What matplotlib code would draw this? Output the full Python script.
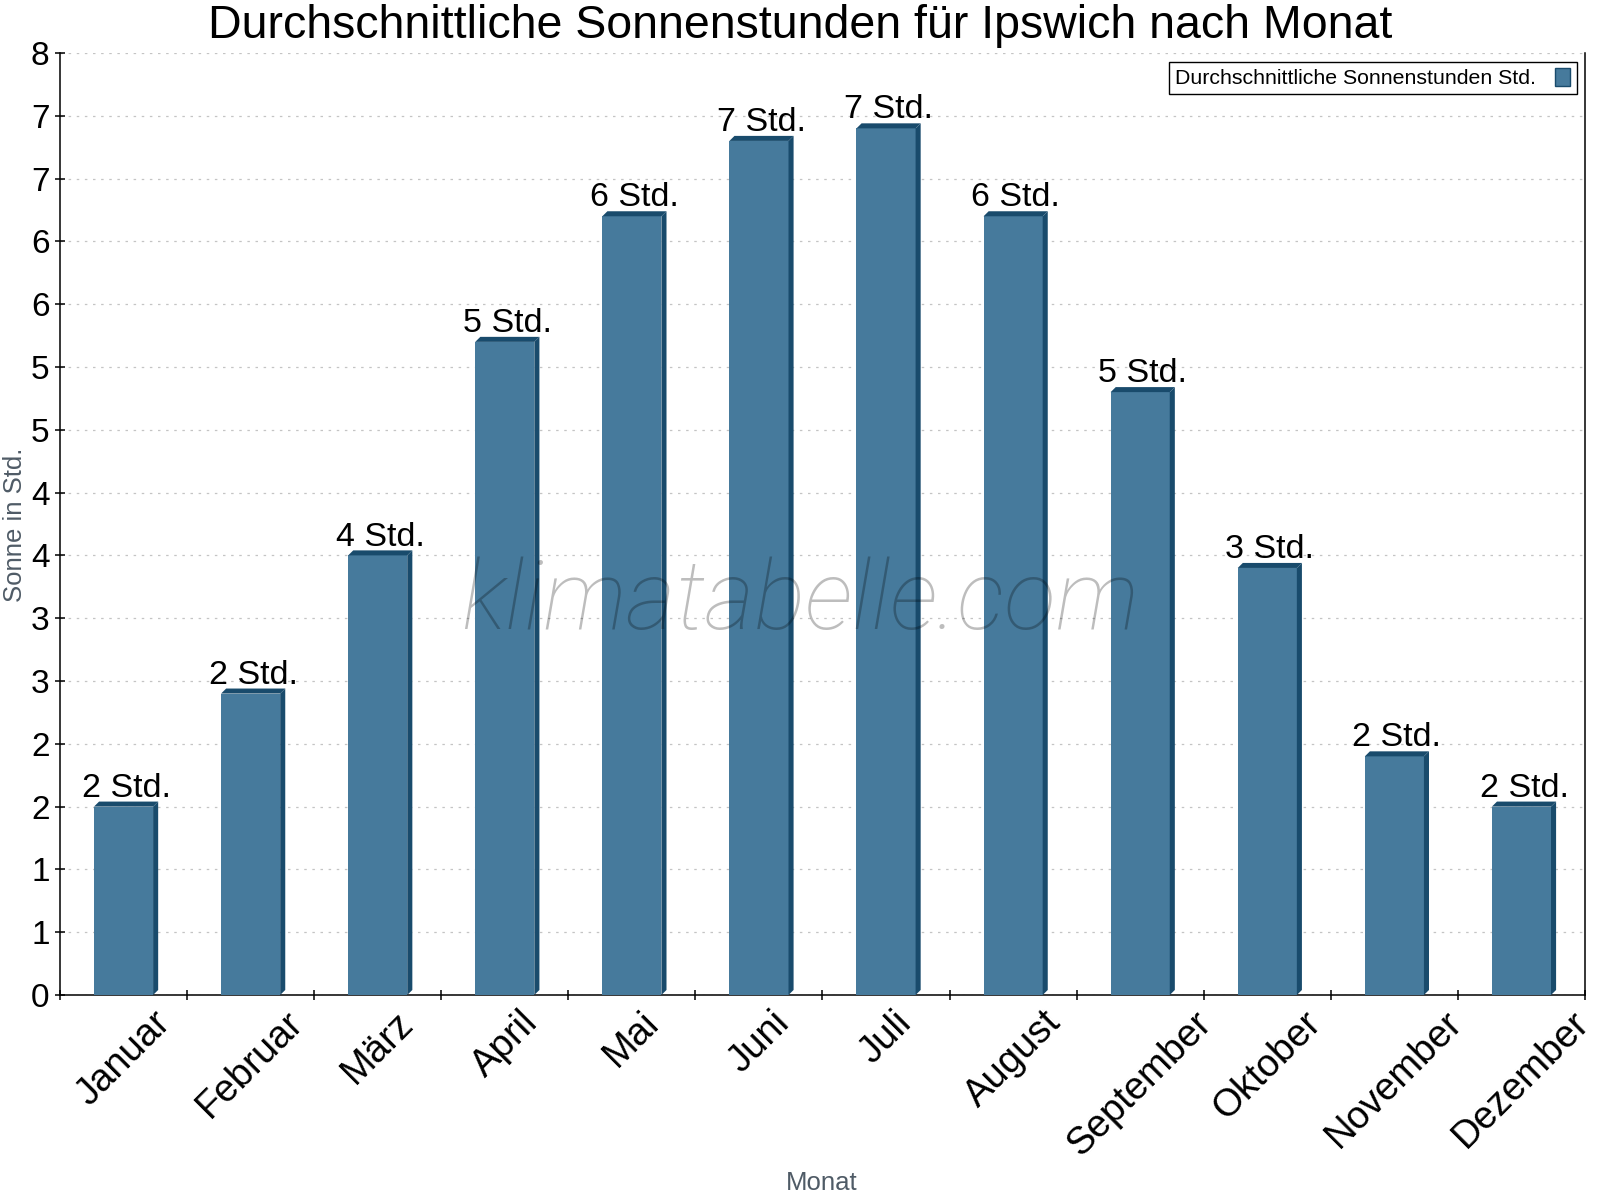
import numpy as np
import matplotlib.pyplot as plt
from matplotlib.patches import Polygon, Patch

months = ['Januar', 'Februar', 'März', 'April', 'Mai', 'Juni', 'Juli',
          'August', 'September', 'Oktober', 'November', 'Dezember']
sun_hours = [1.5, 2.4, 3.5, 5.2, 6.2, 6.8, 6.9, 6.2, 4.8, 3.4, 1.9, 1.5]
y_ticks = np.arange(0, 8, 0.5)

front_color = '#467a9c'
dark_color = '#194b6c'
font = 'Liberation Sans'
plt.rcParams['font.family'] = [font, 'DejaVu Sans']


def round_half_up(v):
    return int(np.floor(v + 0.5))


fig = plt.figure(figsize=(16, 12), dpi=100)
ax = fig.add_axes([60 / 1600, 205 / 1200, 1525 / 1600, 942 / 1200])

x = np.arange(len(months))
width = 0.465
dx, dy = 0.04, 0.04

ax.bar(x, sun_hours, width=width, color=front_color, zorder=3)
for xi, v in zip(x, sun_hours):
    x0, x1 = xi - width / 2, xi + width / 2
    side = Polygon([(x1, 0), (x1 + dx, dy), (x1 + dx, v + dy), (x1, v)],
                   closed=True, facecolor=dark_color, edgecolor='none', zorder=3)
    top = Polygon([(x0, v), (x0 + dx, v + dy), (x1 + dx, v + dy), (x1, v)],
                  closed=True, facecolor=dark_color, edgecolor='none', zorder=3)
    ax.add_patch(side)
    ax.add_patch(top)
    ax.annotate('{} Std.'.format(round_half_up(v)), (xi + dx / 2, v + dy),
                xytext=(0, 3.5), textcoords='offset points',
                ha='center', va='baseline', fontsize=24.5, zorder=5)

ax.set_xlim(-0.5, len(months) - 0.5)
ax.set_ylim(0, 7.5)

ax.set_yticks(y_ticks)
ax.set_yticklabels([str(round_half_up(t)) for t in y_ticks])
ax.tick_params(axis='y', direction='inout', length=7, width=1.1, labelsize=24, pad=4)

ax.set_xticks(x)
ax.set_xticklabels(months, rotation=45, ha='center', va='top')
ax.set_xticks(np.arange(-0.5, len(months), 1.0), minor=True)
ax.tick_params(axis='x', which='major', length=0, labelsize=27.5, pad=7)
ax.tick_params(axis='x', which='minor', direction='inout', length=7, width=1.1)

ax.grid(axis='y', color='#c4c4c4', linestyle=(0, (2, 4.5)), linewidth=0.9)
ax.set_axisbelow(True)

ax.spines['top'].set_visible(False)
for s in ['left', 'right', 'bottom']:
    ax.spines[s].set_linewidth(1.1)
    ax.spines[s].set_color('black')

leg = ax.legend(handles=[Patch(facecolor=front_color, edgecolor=dark_color,
                               label='Durchschnittliche Sonnenstunden Std.')],
                loc='upper right', markerfirst=False, fontsize=15.3,
                fancybox=False, framealpha=1, edgecolor='black',
                handlelength=0.7, handleheight=0.9, handletextpad=0.9,
                borderpad=0.3, borderaxespad=0.4)
leg.get_frame().set_linewidth(1.0)

ax.text(0.485, 0.417, 'klimatabelle.com', transform=ax.transAxes,
        ha='center', va='center', fontsize=69, style='italic',
        family=['Roboto', 'DejaVu Sans'], fontweight='light',
        color='black', alpha=0.26, zorder=6)

fig.text(0.5, 1 - 38 / 1200, 'Durchschnittliche Sonnenstunden für Ipswich nach Monat',
         ha='center', va='baseline', fontsize=33.5)
fig.text(15 / 1600, 0.5625, 'Sonne in Std.', rotation=90, ha='center', va='center',
         fontsize=18.5, color='#4f5b66')
fig.text(822 / 1600, 1 - 1183 / 1200, 'Monat', ha='center', va='center',
         fontsize=18.5, color='#4f5b66')

fig.savefig('out.png', dpi=100)
